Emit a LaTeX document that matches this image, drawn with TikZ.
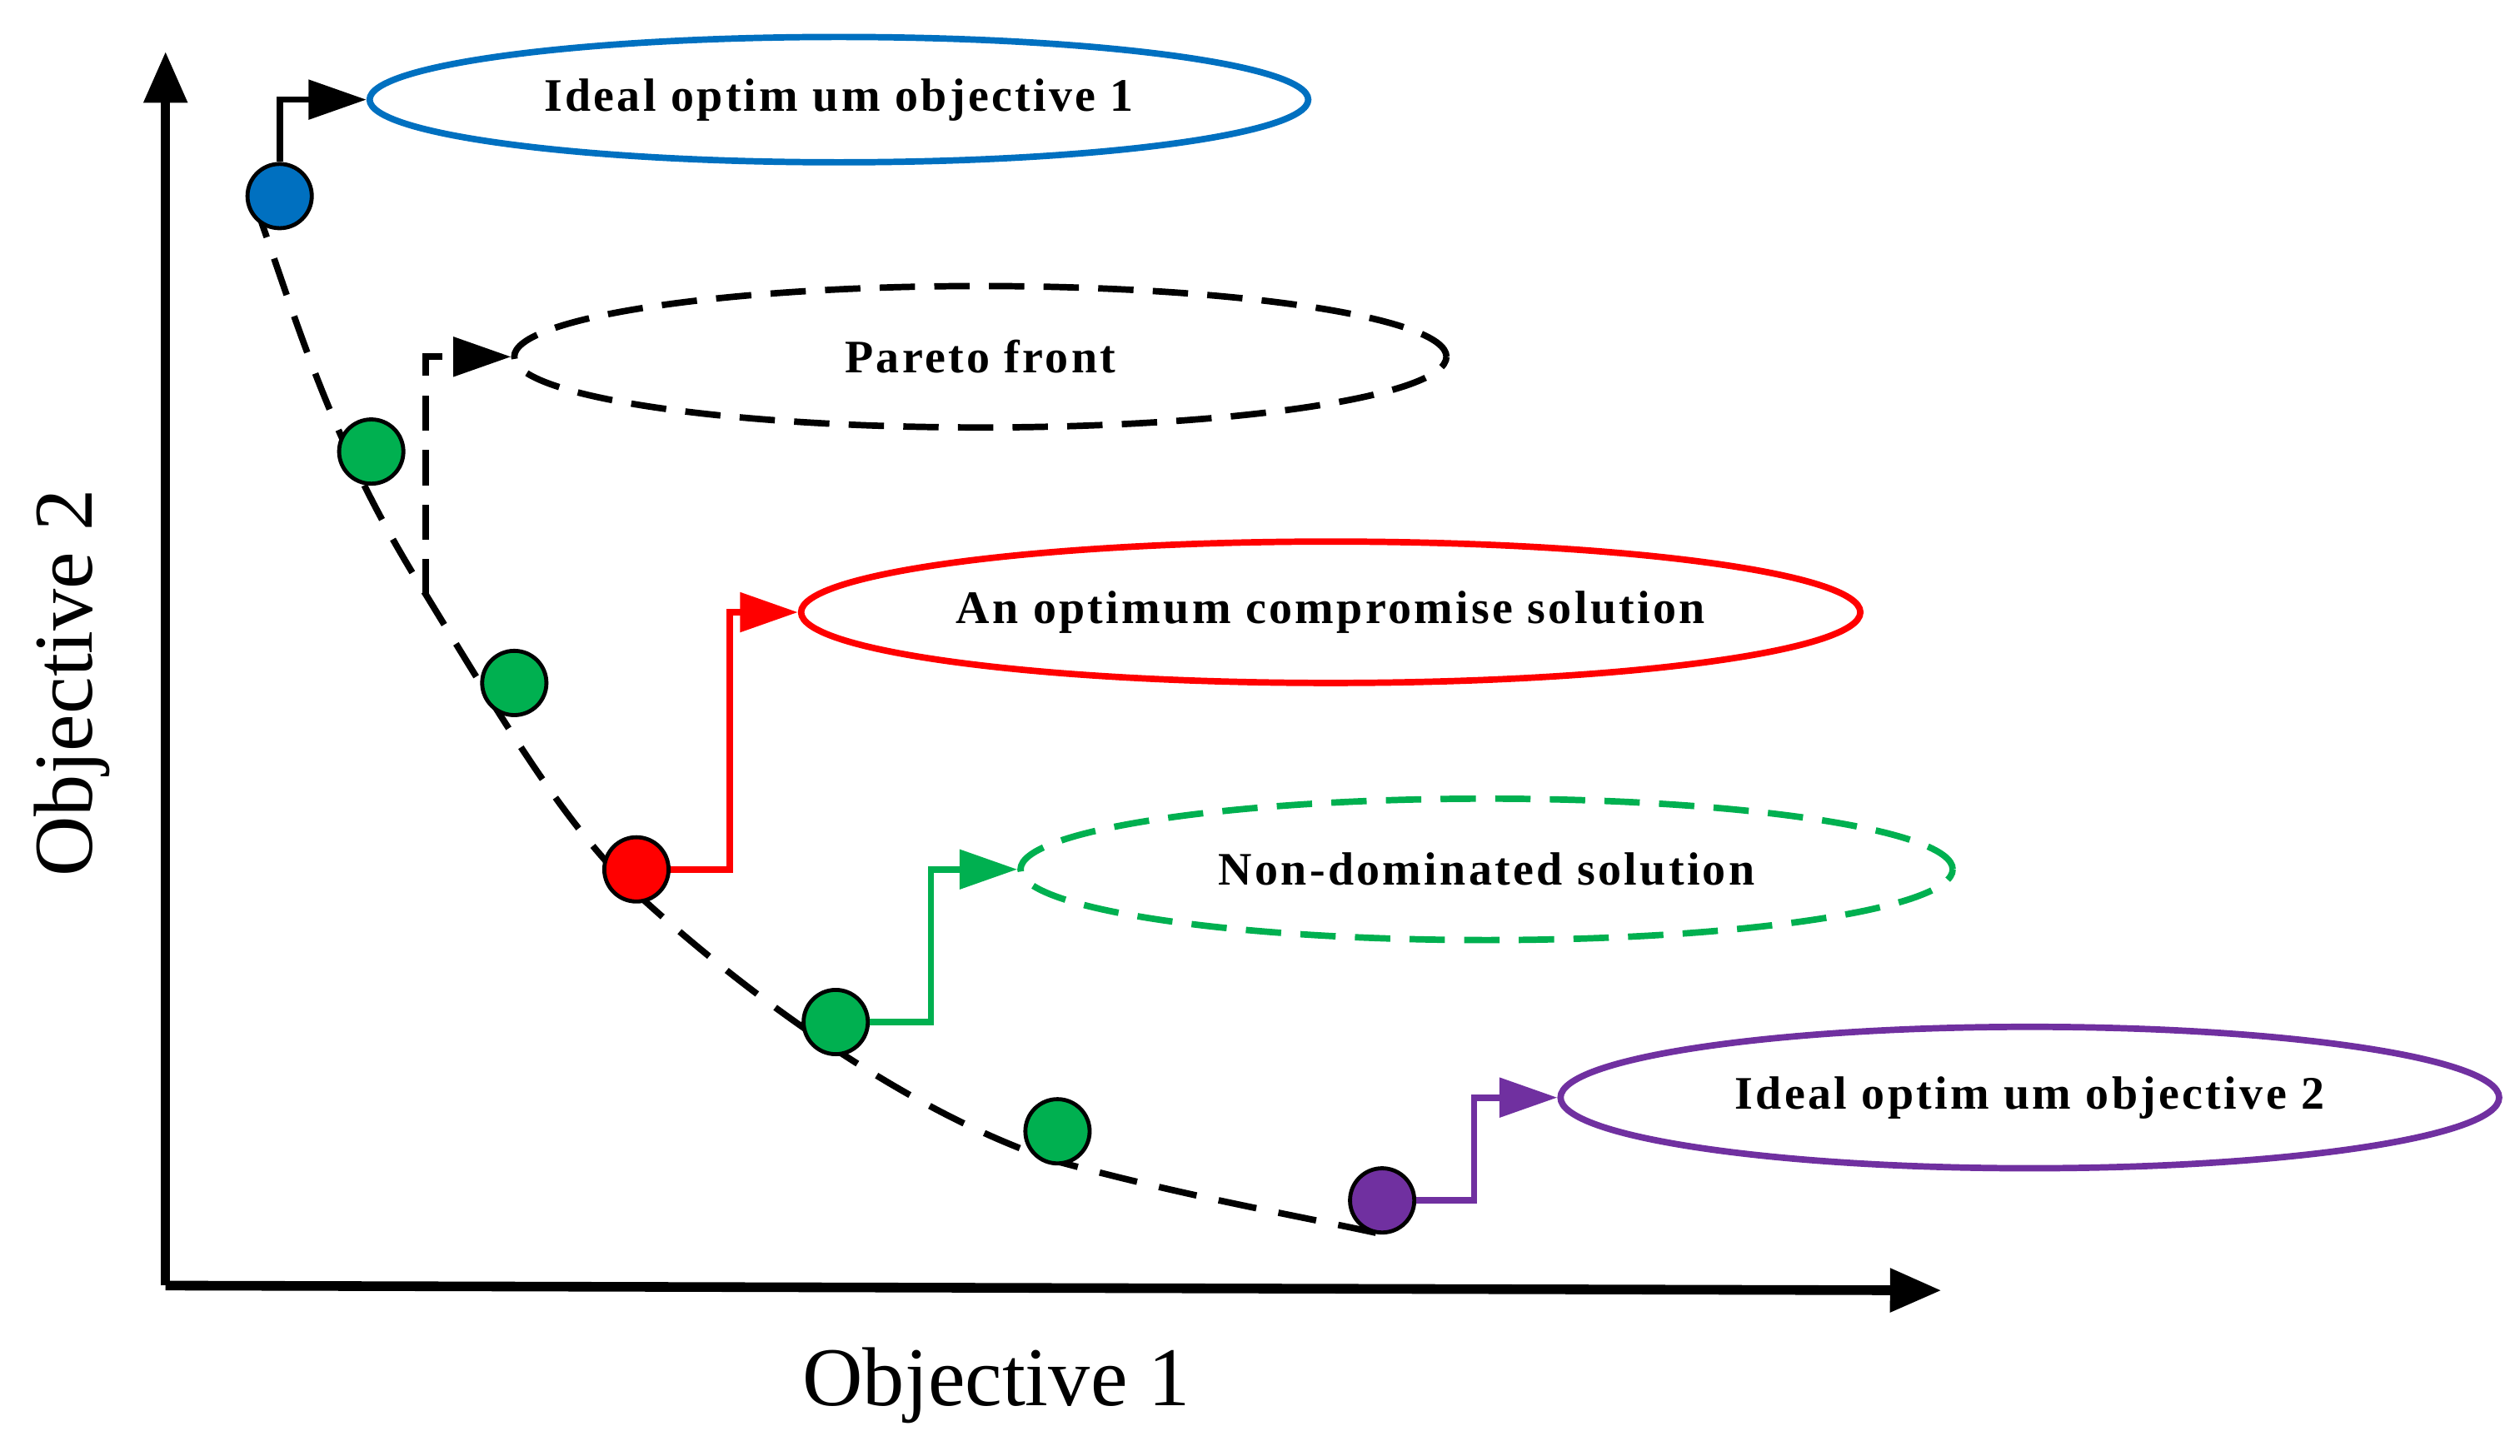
\documentclass[tikz,border=0pt]{standalone}
\usepackage{fontspec}
\setmainfont{Liberation Serif}
\usetikzlibrary{arrows.meta,shapes.geometric}
\definecolor{cblue}{RGB}{0,112,192}
\definecolor{cgreen}{RGB}{0,176,80}
\definecolor{cred}{RGB}{255,0,0}
\definecolor{cpurple}{RGB}{112,48,160}
\begin{document}
\begin{tikzpicture}[x=1pt,y=-1pt,
  dot/.style={circle,draw=black,line width=2.5pt,minimum size=40pt,inner sep=0pt},
  ell/.style={ellipse,line width=4pt,font=\fontsize{29}{31}\selectfont\bfseries\addfontfeatures{LetterSpace=6},inner sep=0pt},
  conn/.style={line width=4pt,-{Triangle[length=36pt,width=24pt]}},
  ax/.style={line width=6pt,-{Triangle[length=32pt,width=26pt]}}]
\useasboundingbox (0,0) rectangle (1568,906);
\coordinate (o) at (103,800);
\coordinate (ytop) at (103,32);
\coordinate (xend) at (1208,803);
\draw[ax] (o) -- (ytop);
\draw[ax] (o) -- (xend);
\node[font=\fontsize{52}{56}\selectfont,rotate=90] (l2) at (45,425) {Objective 2};
\node[font=\fontsize{52}{56}\selectfont] (l1) at (620,862) {Objective 1};
\draw[line width=4pt,dash pattern=on 24pt off 14pt] (158,125) .. controls (185,200) and (205,275) .. (265,370)
  .. controls (320,460) and (350,510) .. (395,555) .. controls (460,615) and (560,690) .. (655,722)
  .. controls (740,745) and (800,755) .. (860,768);
\node[dot,fill=cblue] (b) at (174,122) {};
\node[dot,fill=cgreen] (g1) at (231,281) {};
\node[dot,fill=cgreen] (g2) at (320,425) {};
\node[dot,fill=cred] (r) at (396,541) {};
\node[dot,fill=cgreen] (g3) at (520,636) {};
\node[dot,fill=cgreen] (g4) at (658,704) {};
\node[dot,fill=cpurple] (p) at (860,747) {};
\node[ell,draw=cblue,minimum width=584pt,minimum height=78pt] (e1) at (522,62) {Ideal optim um objective 1};
\node[ell,draw=black,dash pattern=on 22pt off 12pt,minimum width=580pt,minimum height=88pt] (e2) at (610,222) {Pareto front};
\node[ell,draw=cred,minimum width=620pt,minimum height=88pt] (e3) at (828,381) {An optimum compromise solution};
\node[ell,draw=cgreen,dash pattern=on 22pt off 12pt,minimum width=580pt,minimum height=88pt] (e4) at (925,541) {Non-dominated solution};
\node[ell,draw=cpurple,minimum width=584pt,minimum height=88pt] (e5) at (1263,683) {Ideal optim um objective 2};
\coordinate (pf) at (265,370);
\draw[conn,black] (b.north) |- (e1.west);
\draw[conn,black,dash pattern=on 22pt off 12pt] (pf) |- (e2.west);
\draw[conn,cred] (r.east) -- ++(37,0) |- (e3.west);
\draw[conn,cgreen] (g3.east) -- ++(38,0) |- (e4.west);
\draw[conn,cpurple] (p.east) -- ++(36,0) |- (e5.west);
\end{tikzpicture}
\end{document}
